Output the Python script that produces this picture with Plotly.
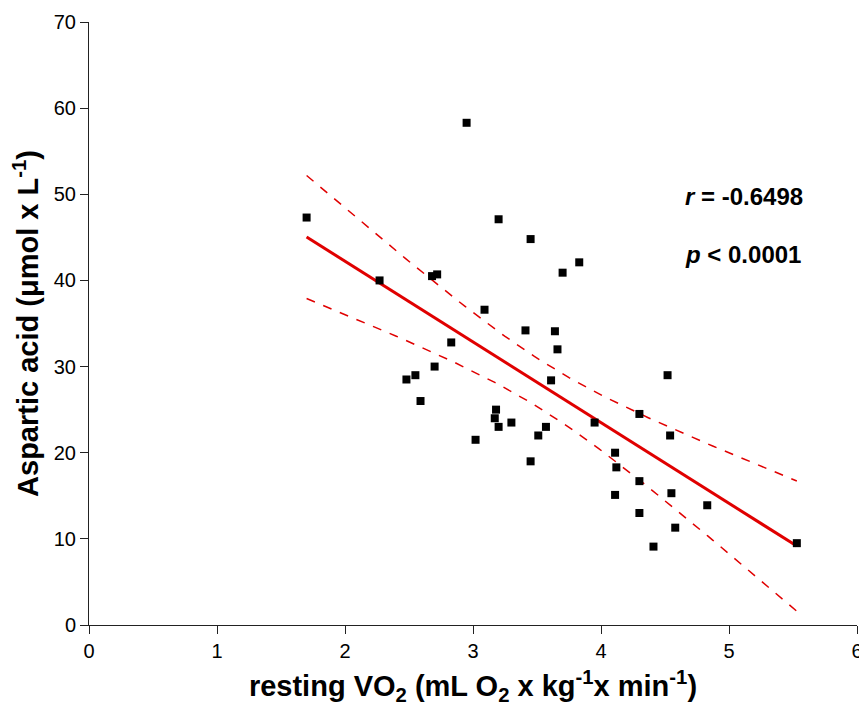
import numpy as np
import plotly.graph_objects as go

vo2 = [1.70, 2.27, 2.48, 2.55, 2.59, 2.70, 2.68, 2.72, 2.83, 3.02, 2.95, 3.09,
       3.18, 3.17, 3.20, 3.30, 3.20, 3.41, 3.45, 3.64, 3.66, 3.61, 3.70, 3.83,
       3.57, 3.51, 3.45, 3.95, 4.11, 4.12, 4.11, 4.30, 4.30, 4.30, 4.52, 4.54,
       4.55, 4.58, 4.41, 4.83, 5.53]
asp = [47.3, 40.0, 28.5, 29.0, 26.0, 30.0, 40.5, 40.7, 32.8, 21.5, 58.3, 36.6,
       25.0, 24.0, 23.0, 23.5, 47.1, 34.2, 44.8, 34.1, 32.0, 28.4, 40.9, 42.1,
       23.0, 22.0, 19.0, 23.5, 20.0, 18.3, 15.1, 24.5, 16.7, 13.0, 29.0, 22.0,
       15.3, 11.3, 9.1, 13.9, 9.5]

x_ticks = [0, 1, 2, 3, 4, 5, 6]
y_ticks = [0, 10, 20, 30, 40, 50, 60, 70]
r_text = "<i>r</i> = -0.6498"
p_text = "<i>p</i> < 0.0001"

# linear regression with 95% confidence band
x = np.array(vo2)
y = np.array(asp)
n = len(x)
slope, intercept = np.polyfit(x, y, 1)
xs = np.linspace(x.min(), x.max(), 100)
ys = intercept + slope * xs
resid = y - (intercept + slope * x)
s = np.sqrt(np.sum(resid ** 2) / (n - 2))
t_crit = 2.023
sxx = np.sum((x - x.mean()) ** 2)
se = s * np.sqrt(1.0 / n + (xs - x.mean()) ** 2 / sxx)
upper = ys + t_crit * se
lower = ys - t_crit * se

red = "#e00000"
fig = go.Figure()
fig.add_trace(go.Scatter(x=xs, y=upper, mode="lines",
                         line=dict(color=red, width=1.5, dash="dash"), hoverinfo="skip"))
fig.add_trace(go.Scatter(x=xs, y=lower, mode="lines",
                         line=dict(color=red, width=1.5, dash="dash"), hoverinfo="skip"))
fig.add_trace(go.Scatter(x=xs, y=ys, mode="lines",
                         line=dict(color=red, width=3)))
fig.add_trace(go.Scatter(x=vo2, y=asp, mode="markers",
                         marker=dict(symbol="square", size=8, color="black")))

fig.add_annotation(x=4.64, y=49.8, text="<b>" + r_text + "</b>", showarrow=False,
                   xanchor="left", yanchor="middle", font=dict(size=24, color="black"))
fig.add_annotation(x=4.64, y=43.0, text="<b>" + p_text + "</b>", showarrow=False,
                   xanchor="left", yanchor="middle", font=dict(size=24, color="black"))

# page body has an 8px margin, so the figure is drawn 8px right/down
fig.update_layout(
    width=859, height=705,
    margin=dict(l=81, r=10, t=14, b=88),
    plot_bgcolor="white", paper_bgcolor="white",
    showlegend=False,
    font=dict(family="Liberation Sans, Arial, sans-serif", color="black"),
)
fig.update_xaxes(
    range=[0, 6], tickvals=x_ticks, ticks="outside", ticklen=8, tickwidth=1,
    tickcolor="#222", showline=True, linecolor="#222", linewidth=1,
    showgrid=False, zeroline=False,
    tickfont=dict(size=20), automargin=False,
    title=dict(text="<b>resting VO<sub>2</sub> (mL O<sub>2</sub> x kg<sup>-1</sup>x min<sup>-1</sup>)</b>",
               font=dict(size=29), standoff=14),
)
fig.update_yaxes(
    range=[0, 70], tickvals=y_ticks, ticks="outside", ticklen=8, tickwidth=1,
    tickcolor="#222", showline=True, linecolor="#222", linewidth=1,
    showgrid=False, zeroline=False,
    tickfont=dict(size=20), automargin=False,
    title=dict(text="<b>Aspartic acid (μmol x L<sup>-1</sup>)</b>",
               font=dict(size=29), standoff=8),
)

fig.write_html("out.html")
